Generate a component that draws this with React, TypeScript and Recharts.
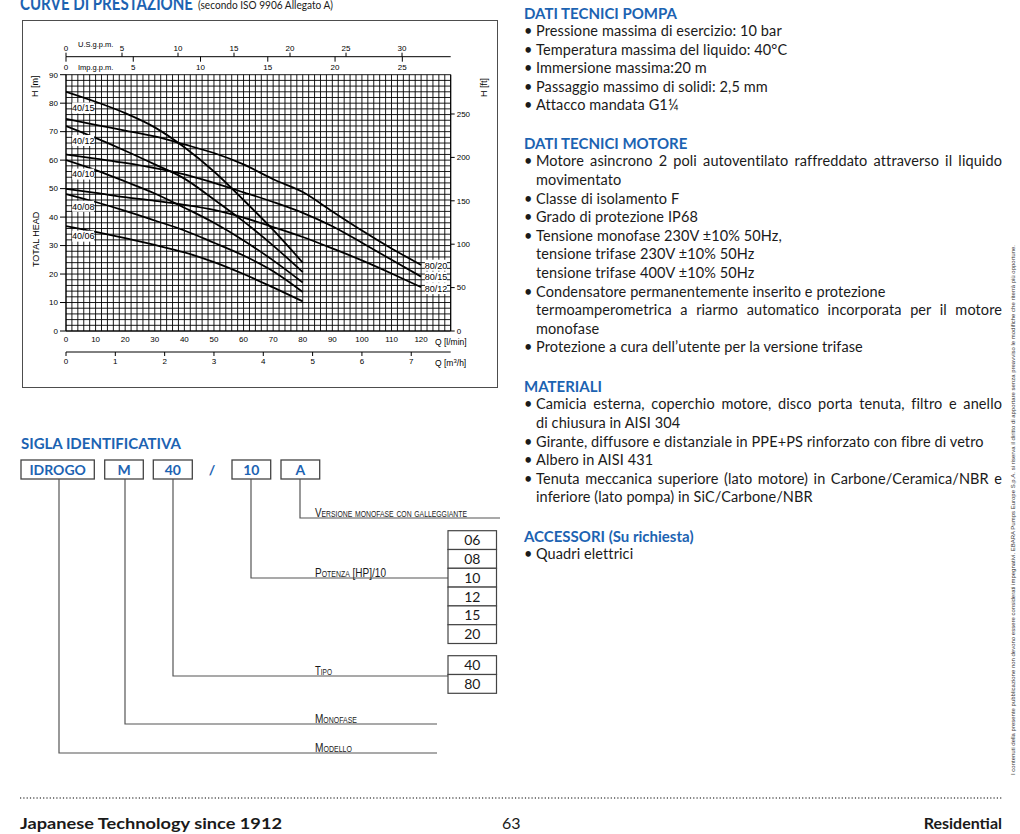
import React from 'react';
import { LineChart, Line, XAxis, YAxis, CartesianGrid, ReferenceDot } from 'recharts';

// flow points (l/min) for the two pump families
const q40 = [0, 10, 20, 30, 40, 50, 60, 70, 80];
const q80 = [0, 10, 20, 30, 40, 50, 60, 70, 80, 90, 100, 110, 120];

// head (m)
const h4015 = [84, 80.5, 76.5, 71.5, 64.5, 56, 46, 35.5, 24];
const h4012 = [72, 67.8, 63.3, 58.5, 53.5, 46.2, 38.5, 30, 20.7];
const h4010 = [60, 56.5, 52.5, 48.3, 43.3, 38, 31.8, 24.8, 17];
const h4008 = [48.1, 45.3, 42.2, 38.8, 35.3, 31, 26.5, 21, 13.7];
const h4006 = [36.8, 34.8, 32.6, 30.2, 27.6, 24.2, 20, 15.3, 10.4];
const h8020 = [74.5, 72.4, 70.4, 68.3, 65.5, 62.5, 58.5, 53.3, 48.8, 42, 35.3, 29, 23.2];
const h8015 = [62, 60.5, 59, 57.2, 55, 52, 48.7, 45.3, 41.5, 36.8, 31, 25, 19.1];
const h8012 = [49.9, 48.5, 47, 45.7, 44.3, 42.5, 39.8, 36.5, 33, 29, 24.8, 20.2, 15.4];

const names40 = ['40/15', '40/12', '40/10', '40/08', '40/06'];
const names80 = ['80/20', '80/15', '80/12'];
const tagH40 = [78.3, 66.9, 55.1, 43.8, 33.3];
const tagH80 = [23.1, 18.9, 14.9];
const tagQ40 = 5.8;
const tagQ80 = 125;

// axis ticks
const qTicks = [0, 10, 20, 30, 40, 50, 60, 70, 80, 90, 100, 110, 120];
const hTicks = [0, 10, 20, 30, 40, 50, 60, 70, 80, 90];
const ftTicks = [0, 50, 100, 150, 200, 250];
const usTicks = [0, 5, 10, 15, 20, 25, 30];
const impTicks = [0, 5, 10, 15, 20, 25];
const m3hTicks = [0, 1, 2, 3, 4, 5, 6, 7];

const Q_MAX = 130;
const H_MAX = 90;
const L_PER_US = 3.785;
const L_PER_IMP = 4.546;
const L_PER_M3H = 1000 / 60;
const M_PER_FT = 0.3048;

// flow extent shared by every x axis
const qRange = [{ q: 0 }, { q: Q_MAX }];

const gridQ = Array.from({ length: Q_MAX / 2 + 1 }, (_, i) => i * 2);
const gridH = Array.from({ length: H_MAX / 2 + 1 }, (_, i) => i * 2);

const BLUE = '#1c63b2';
const chartFont = '"Liberation Sans Narrow", "Liberation Sans", Arial, sans-serif';

const toPoints = (qs: number[], hs: number[]) => qs.map((q, i) => ({ q, h: hs[i] }));

const ImpTick = (props: any) => {
  const { x, y, payload } = props;
  return (
    <g>
      <line x1={x} x2={x} y1={y - 18} y2={y - 13} stroke="#000" strokeWidth={1} />
      <text x={x} y={y - 5} textAnchor="middle" fontSize={8} fill="#000" fontFamily={chartFont}>
        {Math.round(payload.value / L_PER_IMP)}
      </text>
    </g>
  );
};

const tag = (text: string) => (p: any) => (
  <g>
    <rect x={p.cx - 11} y={p.cy - 5.5} width={22} height={11} fill="#fff" />
    <text x={p.cx} y={p.cy + 3.3} textAnchor="middle" fontSize={9} fill="#000" fontFamily={chartFont}>{text}</text>
  </g>
);

const tickStyle = { fontSize: 8, fill: '#000', fontFamily: chartFont };

function PerformanceChart() {
  const s40 = [h4015, h4012, h4010, h4008, h4006];
  const s80 = [h8020, h8015, h8012];
  return (
    <LineChart width={476} height={368} data={qRange} margin={{ top: 22.7, right: 17.3, left: 14, bottom: 14 }}>
      <CartesianGrid
        xAxisId="b1q"
        yAxisId="m"
        stroke="#000"
        strokeWidth={0.9}
        fill="#fff"
        verticalCoordinatesGenerator={({ offset }: any) => gridQ.map(v => offset.left + (v / Q_MAX) * offset.width)}
        horizontalCoordinatesGenerator={({ offset }: any) => gridH.map(v => offset.top + (1 - v / H_MAX) * offset.height)}
      />
      <XAxis xAxisId="t1imp" dataKey="q" orientation="top" type="number" domain={[0, Q_MAX]} allowDataOverflow
        ticks={impTicks.map(v => v * L_PER_IMP)} interval={0} height={18}
        axisLine={false} tickLine={false} tickSize={0} tickMargin={0} tick={<ImpTick />} />
      <XAxis xAxisId="t2us" dataKey="q" orientation="top" type="number" domain={[0, Q_MAX]} allowDataOverflow
        ticks={usTicks.map(v => v * L_PER_US)} interval={0} height={14}
        axisLine={{ stroke: '#000' }} tickLine={{ stroke: '#000' }} tickSize={4} tickMargin={2}
        tick={tickStyle} tickFormatter={(v: number) => String(Math.round(v / L_PER_US))} />
      <XAxis xAxisId="b1q" dataKey="q" orientation="bottom" type="number" domain={[0, Q_MAX]} allowDataOverflow
        ticks={qTicks} interval={0} height={21}
        axisLine={{ stroke: '#000' }} tickLine={false} tickSize={2} tickMargin={3} tick={tickStyle} />
      <XAxis xAxisId="b2m3h" dataKey="q" orientation="bottom" type="number" domain={[0, Q_MAX]} allowDataOverflow
        ticks={m3hTicks.map(v => v * L_PER_M3H)} interval={0} height={22}
        axisLine={{ stroke: '#000' }} tickLine={{ stroke: '#000' }} tickSize={4} tickMargin={2}
        tick={tickStyle} tickFormatter={(v: number) => String(Math.round(v / L_PER_M3H))} />
      <YAxis yAxisId="m" type="number" domain={[0, H_MAX]} allowDataOverflow ticks={hTicks} interval={0}
        width={30} axisLine={{ stroke: '#000' }} tickLine={{ stroke: '#000' }} tickSize={6} tickMargin={2} tick={tickStyle} />
      <YAxis yAxisId="ft" orientation="right" type="number" domain={[0, H_MAX / M_PER_FT]} allowDataOverflow
        ticks={ftTicks} interval={0} width={30}
        axisLine={{ stroke: '#000' }} tickLine={{ stroke: '#000' }} tickSize={4} tickMargin={2} tick={tickStyle} />
      {s40.map((hs, i) => (
        <Line key={names40[i]} xAxisId="b1q" yAxisId="m" data={toPoints(q40, hs)} dataKey="h" type="monotone"
          stroke="#000" strokeWidth={1.8} dot={false} isAnimationActive={false} />
      ))}
      {s80.map((hs, i) => (
        <Line key={names80[i]} xAxisId="b1q" yAxisId="m" data={toPoints(q80, hs)} dataKey="h" type="monotone"
          stroke="#000" strokeWidth={1.8} dot={false} isAnimationActive={false} />
      ))}
      {names40.map((n, i) => (
        <ReferenceDot key={'t' + n} xAxisId="b1q" yAxisId="m" x={tagQ40} y={tagH40[i]} r={0} ifOverflow="visible" shape={tag(n)} />
      ))}
      {names80.map((n, i) => (
        <ReferenceDot key={'t' + n} xAxisId="b1q" yAxisId="m" x={tagQ80} y={tagH80[i]} r={0} ifOverflow="visible" shape={tag(n)} />
      ))}
    </LineChart>
  );
}

type Ln = { t: string; b?: boolean; j?: boolean; h?: boolean };

const blocks: { top: number; lines: Ln[] }[] = [
  {
    top: 3.5,
    lines: [
      { t: 'DATI TECNICI POMPA', h: true },
      { t: 'Pressione massima di esercizio: 10 bar', b: true },
      { t: 'Temperatura massima del liquido: 40°C', b: true },
      { t: 'Immersione massima:20 m', b: true },
      { t: 'Passaggio massimo di solidi: 2,5 mm', b: true },
      { t: 'Attacco mandata G1¼', b: true },
    ],
  },
  {
    top: 133.8,
    lines: [
      { t: 'DATI TECNICI MOTORE', h: true },
      { t: 'Motore asincrono 2 poli autoventilato raffreddato attraverso il liquido', b: true, j: true },
      { t: 'movimentato' },
      { t: 'Classe di isolamento F', b: true },
      { t: 'Grado di protezione IP68', b: true },
      { t: 'Tensione monofase 230V ±10% 50Hz,', b: true },
      { t: 'tensione trifase 230V ±10% 50Hz' },
      { t: 'tensione trifase 400V ±10% 50Hz' },
      { t: 'Condensatore permanentemente inserito e protezione', b: true },
      { t: 'termoamperometrica a riarmo automatico incorporata per il motore', j: true },
      { t: 'monofase' },
      { t: 'Protezione a cura dell’utente per la versione trifase', b: true },
    ],
  },
  {
    top: 376.8,
    lines: [
      { t: 'MATERIALI', h: true },
      { t: 'Camicia esterna, coperchio motore, disco porta tenuta, filtro e anello', b: true, j: true },
      { t: 'di chiusura in AISI 304' },
      { t: 'Girante, diffusore e distanziale in PPE+PS rinforzato con fibre di vetro', b: true },
      { t: 'Albero in AISI 431', b: true },
      { t: 'Tenuta meccanica superiore (lato motore) in Carbone/Ceramica/NBR e', b: true, j: true },
      { t: 'inferiore (lato pompa) in SiC/Carbone/NBR' },
    ],
  },
  {
    top: 526.8,
    lines: [
      { t: 'ACCESSORI (Su richiesta)', h: true },
      { t: 'Quadri elettrici', b: true },
    ],
  },
];

const powerOptions = ['06', '08', '10', '12', '15', '20'];
const typeOptions = ['40', '80'];
const codeBoxes = [
  { t: 'IDROGO', x: 21, w: 73.3 },
  { t: 'M', x: 104.7, w: 38.6 },
  { t: '40', x: 153.3, w: 39 },
  { t: '10', x: 232, w: 38.7 },
  { t: 'A', x: 281, w: 38.7 },
];

const bodyFont = 'Lato, "Open Sans", sans-serif';

export default function App() {
  const rowH = 18.8;
  return (
    <div style={{ position: 'absolute', left: 0, top: 0, width: 1020, height: 834, overflow: 'hidden', background: '#fff', fontFamily: bodyFont, color: '#1a1a1a' }}>
      <div style={{ position: 'absolute', left: 22, top: 20, width: 476, height: 368, border: '1.5px solid #4d4d4d', boxSizing: 'border-box' }} />
      <div style={{ position: 'absolute', left: 22, top: 20 }}>
        <PerformanceChart />
      </div>

      {blocks.map((bl, bi) => (
        <div key={bi} style={{ position: 'absolute', left: 524, top: bl.top, width: 478, lineHeight: '18.6px', fontSize: 14.5 }}>
          {bl.lines.map((ln, li) => (
            <div key={li} style={{
              position: 'relative', paddingLeft: 12, whiteSpace: 'nowrap',
              fontWeight: ln.h ? 700 : 400, color: ln.h ? BLUE : '#1a1a1a',
              marginLeft: ln.h ? -12 : 0, fontSize: ln.h ? 15 : 14.5, letterSpacing: ln.h ? 0 : 0.1,
              textAlign: ln.j ? 'justify' : 'left', textAlignLast: ln.j ? 'justify' : 'auto',
            }}>
              {ln.b && <span style={{ position: 'absolute', left: 0 }}>•</span>}
              {ln.t}
            </div>
          ))}
        </div>
      ))}

      <svg width={1020} height={834} style={{ position: 'absolute', left: 0, top: 0 }}>
        <text x={20} y={9.5} fontSize={18} fontWeight={700} fill={BLUE} fontFamily={bodyFont} textLength={173} lengthAdjust="spacingAndGlyphs">CURVE DI PRESTAZIONE</text>
        <text x={198} y={8.5} fontSize={10.5} fill="#1a1a1a" fontFamily={bodyFont} textLength={135} lengthAdjust="spacingAndGlyphs">(secondo ISO 9906 Allegato A)</text>

        <g fontFamily={chartFont} fill="#000">
          <text x={78} y={47} fontSize={7.5}>U.S.g.p.m.</text>
          <text x={78} y={70} fontSize={7.5}>Imp.g.p.m.</text>
          <text transform="translate(38,97) rotate(-90)" fontSize={9}>H [m]</text>
          <text transform="translate(39,267) rotate(-90)" fontSize={9}>TOTAL HEAD</text>
          <text transform="translate(487,97) rotate(-90)" fontSize={9}>H [ft]</text>
          <text x={435} y={345} fontSize={8.5}>Q [l/min]</text>
          <text x={435} y={366} fontSize={8.5}>Q [m<tspan fontSize={6} dy={-3}>3</tspan><tspan dy={3}>/h]</tspan></text>
        </g>

        <text x={21} y={449} fontSize={15} fontWeight={700} fill={BLUE} fontFamily={bodyFont} textLength={160} lengthAdjust="spacingAndGlyphs">SIGLA IDENTIFICATIVA</text>
        {codeBoxes.map(b => (
          <g key={b.t}>
            <rect x={b.x} y={460} width={b.w} height={19} fill="#fff" stroke="#444" strokeWidth={1.3} />
            <text x={b.x + b.w / 2} y={475} textAnchor="middle" fontSize={14} fontWeight={700} fill={BLUE} fontFamily={bodyFont}>{b.t}</text>
          </g>
        ))}
        <text x={212} y={475} textAnchor="middle" fontSize={14} fontWeight={700} fill={BLUE} fontFamily={bodyFont}>/</text>

        <g fill="none" stroke="#555" strokeWidth={1.2}>
          <path d="M59,479 V753 H437" />
          <path d="M125,479 V724 H437" />
          <path d="M173,479 V676 H448" />
          <path d="M251,479 V578 H448" />
          <path d="M300,479 V518 H500" />
        </g>
        {powerOptions.map((p, i) => (
          <g key={p}>
            <rect x={448} y={530.7 + i * rowH} width={48.5} height={rowH} fill="#fff" stroke="#444" strokeWidth={1.2} />
            <text x={472.3} y={530.7 + i * rowH + 14.5} textAnchor="middle" fontSize={14} fill="#1a1a1a" fontFamily={bodyFont}>{p}</text>
          </g>
        ))}
        {typeOptions.map((p, i) => (
          <g key={p}>
            <rect x={448} y={655.7 + i * rowH} width={48.5} height={rowH} fill="#fff" stroke="#444" strokeWidth={1.2} />
            <text x={472.3} y={655.7 + i * rowH + 14.5} textAnchor="middle" fontSize={14} fill="#1a1a1a" fontFamily={bodyFont}>{p}</text>
          </g>
        ))}
        <g fontFamily={chartFont} fill="#1a1a1a" fontSize={13} style={{ fontVariant: 'small-caps' }}>
          <text x={315} y={517} textLength={152} lengthAdjust="spacingAndGlyphs">Versione monofase con galleggiante</text>
          <text x={315} y={577} textLength={71} lengthAdjust="spacingAndGlyphs">Potenza [HP]/10</text>
          <text x={315} y={675} textLength={17} lengthAdjust="spacingAndGlyphs">Tipo</text>
          <text x={315} y={723} textLength={42} lengthAdjust="spacingAndGlyphs">Monofase</text>
          <text x={315} y={752} textLength={37} lengthAdjust="spacingAndGlyphs">Modello</text>
        </g>

        <text transform="translate(1015,775) rotate(-90)" fontSize={6} fill="#333" fontFamily={chartFont} textLength={530} lengthAdjust="spacingAndGlyphs">
          I contenuti della presente pubblicazione non devono essere considerati impegnativi. EBARA Pumps Europe S.p.A. si riserva il diritto di apportare senza preavviso le modifiche che riterrà più opportune.
        </text>

        <line x1={20} x2={1002} y1={798} y2={798} stroke="#555" strokeWidth={1.3} strokeDasharray="1.2 2.1" />
        <text x={20} y={829} fontSize={16} fontWeight={700} fill="#1a1a1a" fontFamily={bodyFont} textLength={262} lengthAdjust="spacingAndGlyphs">Japanese Technology since 1912</text>
        <text x={502} y={829} fontSize={16} fill="#1a1a1a" fontFamily={bodyFont}>63</text>
        <text x={1002} y={829} fontSize={16} fontWeight={700} fill="#1a1a1a" fontFamily={bodyFont} textAnchor="end">Residential</text>
      </svg>
    </div>
  );
}
